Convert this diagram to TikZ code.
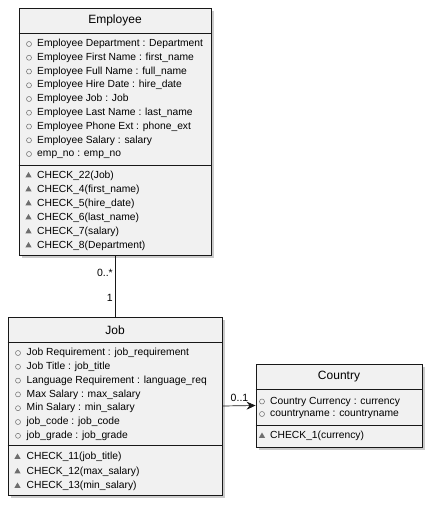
\documentclass[tikz,border=0pt]{standalone}
\usepackage{fontspec}
\setmainfont{Liberation Sans}
\usetikzlibrary{shadows,shapes.geometric,arrows.meta}
\definecolor{boxfill}{HTML}{F1F1F1}
\definecolor{boxline}{HTML}{181818}
\definecolor{icon}{HTML}{6E6E6E}
\tikzset{
  classbox/.style={draw=boxline,fill=boxfill,line width=0.9pt,inner sep=0pt,
    drop shadow={shadow xshift=3pt,shadow yshift=-3pt,fill=black!40}},
  title/.style={font=\fontsize{12}{12}\selectfont,inner sep=0pt},
  member/.style={font=\fontsize{10.3}{10.3}\selectfont,anchor=west,inner sep=0pt,
    text height=7.5pt,text depth=2pt},
  attrdot/.style={circle,draw=icon,line width=0.5pt,minimum size=5pt,inner sep=0pt},
  checkmark/.style={regular polygon,regular polygon sides=3,fill=icon,
    minimum size=7pt,inner sep=0pt},
  mult/.style={font=\fontsize{10.5}{10.5}\selectfont,inner sep=0pt}
}
\begin{document}
\begin{tikzpicture}[x=1pt,y=-1pt]
  \useasboundingbox[fill=white] (0,0) rectangle (434,508);
  % boxes
  \node[classbox,minimum width=192pt,minimum height=247pt] (emp) at (115,131.5) {};
  \node[classbox,minimum width=214pt,minimum height=178pt] (job) at (115,406) {};
  \node[classbox,minimum width=166pt,minimum height=83pt] (cty) at (339,405.5) {};
  \draw[boxline,line width=0.9pt] (emp.west |- 0,33) -- (emp.east |- 0,33);
  \draw[boxline,line width=0.9pt] (emp.west |- 0,165) -- (emp.east |- 0,165);
  \draw[boxline,line width=0.9pt] (job.west |- 0,342) -- (job.east |- 0,342);
  \draw[boxline,line width=0.9pt] (job.west |- 0,445) -- (job.east |- 0,445);
  \draw[boxline,line width=0.9pt] (cty.west |- 0,389) -- (cty.east |- 0,389);
  \draw[boxline,line width=0.9pt] (cty.west |- 0,425) -- (cty.east |- 0,425);
  % titles
  \node[title] (empname) at (115,20) {Employee};
  \node[title] (jobname) at (115,330) {Job};
  \node[title] (ctyname) at (339,377) {Country};
  % Employee
  \foreach \t [count=\i] in {Employee Department : Department,
      Employee First Name : first\_name, Employee Full Name : full\_name,
      Employee Hire Date : hire\_date, Employee Job : Job,
      Employee Last Name : last\_name, Employee Phone Ext : phone\_ext,
      Employee Salary : salary, emp\_no : emp\_no} {
    \node[attrdot] at (29,{44+13.75*(\i-1)}) {};
    \node[member] at (37,{44+13.75*(\i-1)}) {\t};
  }
  \foreach \t [count=\i] in {CHECK\_22(Job), CHECK\_4(first\_name),
      CHECK\_5(hire\_date), CHECK\_6(last\_name), CHECK\_7(salary),
      CHECK\_8(Department)} {
    \node[checkmark] at (28.5,{175.5+14*(\i-1)}) {};
    \node[member] at (37,{175.5+14*(\i-1)}) {\t};
  }
  % Job
  \foreach \t [count=\i] in {Job Requirement : job\_requirement,
      Job Title : job\_title, Language Requirement : language\_req,
      Max Salary : max\_salary, Min Salary : min\_salary,
      job\_code : job\_code, job\_grade : job\_grade} {
    \node[attrdot] at (18,{353+13.8*(\i-1)}) {};
    \node[member] at (26.5,{353+13.8*(\i-1)}) {\t};
  }
  \foreach \t [count=\i] in {CHECK\_11(job\_title), CHECK\_12(max\_salary),
      CHECK\_13(min\_salary)} {
    \node[checkmark] at (17.5,{457+14.5*(\i-1)}) {};
    \node[member] at (26.5,{457+14.5*(\i-1)}) {\t};
  }
  % Country
  \foreach \t [count=\i] in {Country Currency : currency,
      countryname : countryname} {
    \node[attrdot] at (262,{401.5+12.5*(\i-1)}) {};
    \node[member] at (270,{401.5+12.5*(\i-1)}) {\t};
  }
  \node[checkmark] at (262,436) {};
  \node[member] (ctychk) at (270,436) {CHECK\_1(currency)};
  % links
  \draw[boxline,line width=0.7pt] (emp.south) -- (job.north);
  \node[mult,anchor=east] (empmult) at (113,273) {0..*};
  \node[mult,anchor=east] (jobmult) at (113,298) {1};
  \draw[boxline,line width=0.7pt,-{Stealth[length=9pt,width=8pt,inset=3pt]}] (job.east) -- (cty.west);
  \node[mult] (ctymult) at (239.5,398) {0..1};
\end{tikzpicture}
\end{document}
